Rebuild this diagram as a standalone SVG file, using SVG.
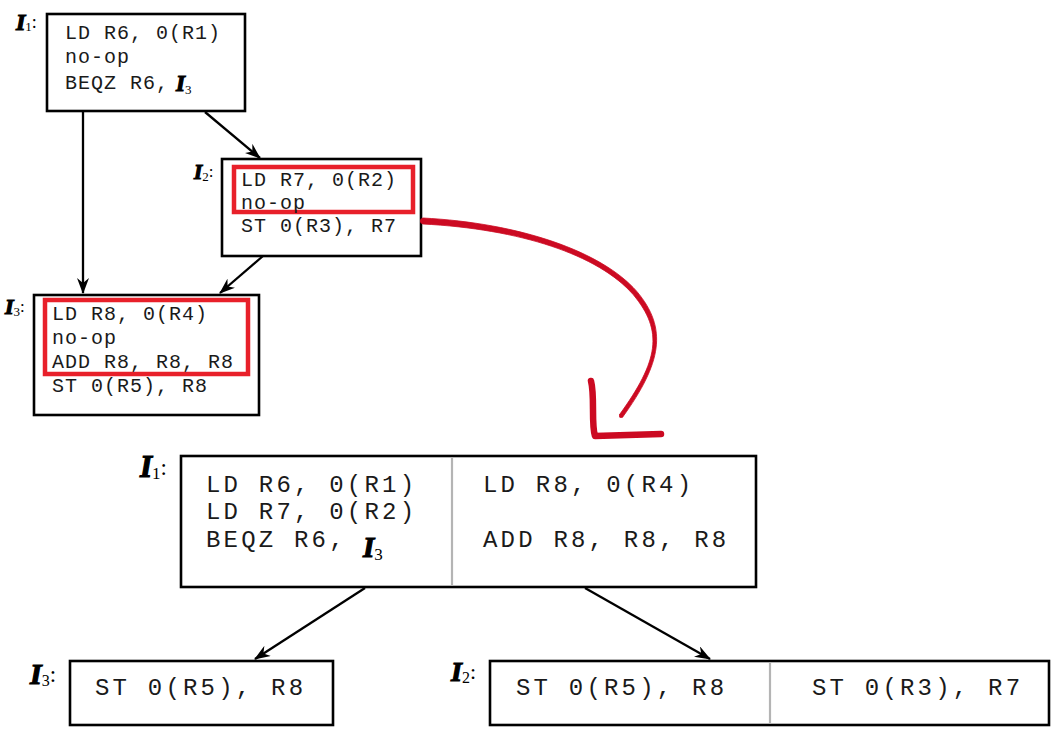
<svg xmlns="http://www.w3.org/2000/svg" width="1063" height="736" viewBox="0 0 1063 736">
<style>
.box{fill:#fff;stroke:#000;stroke-width:2.6}
.hl{fill:none;stroke:#e8202a;stroke-width:4.5}
.div{stroke:#b4b4b4;stroke-width:2.2}
.c{font-family:"Liberation Mono","Courier New",monospace;font-size:20px;letter-spacing:1px;fill:#1a1a1a}
.cb{font-family:"Liberation Mono","Courier New",monospace;font-size:24px;letter-spacing:3.2px;fill:#1a1a1a}
.I{font-family:"Liberation Serif","Times New Roman",serif;font-weight:bold;font-style:italic;fill:#000;stroke:#000;stroke-width:1.2}
.sub{stroke-width:0;font-weight:normal;font-style:normal}
.s{font-family:"Liberation Serif","Times New Roman",serif;font-weight:normal;font-style:normal;stroke-width:0}
.conn{stroke:#000;stroke-width:2.3;fill:none;marker-end:url(#ah)}
</style>
<defs>
<marker id="ah" viewBox="0 0 16 12" refX="15" refY="6" markerWidth="16" markerHeight="12" markerUnits="userSpaceOnUse" orient="auto">
<path d="M0,0 L16,6 L0,12 L5,6 Z" fill="#000"/>
</marker>
</defs>
<rect width="1063" height="736" fill="#fff"/>

<g id="connectors">
<line class="conn" x1="83" y1="112" x2="83" y2="293"/>
<line class="conn" x1="205" y1="112" x2="260" y2="158"/>
<line class="conn" x1="263" y1="256" x2="220" y2="293"/>
<line class="conn" x1="365" y1="588" x2="255" y2="659"/>
<line class="conn" x1="585" y1="588" x2="710" y2="659"/>
</g>

<g id="top-I1">
<rect class="box" x="47" y="14" width="198" height="97"/>
<text class="I" x="16" y="30" font-size="24">I<tspan class="sub" font-size="13" dy="1">1</tspan><tspan class="s" font-size="18" dy="-3">:</tspan></text>
<text class="c" x="65" y="39">LD R6, 0(R1)</text>
<text class="c" x="65" y="63">no-op</text>
<text class="c" x="65" y="89">BEQZ R6,</text>
<text class="I" x="176" y="91" font-size="23">I<tspan class="sub" font-size="13" dy="3">3</tspan></text>
</g>

<g id="top-I2">
<rect class="box" x="222" y="159" width="199" height="97"/>
<rect class="hl" x="234" y="167" width="179" height="45"/>
<text class="I" x="194" y="179" font-size="21">I<tspan class="sub" font-size="13" dy="2">2</tspan><tspan class="s" font-size="17" dy="-4">:</tspan></text>
<text class="c" x="241" y="186">LD R7, 0(R2)</text>
<text class="c" x="241" y="209">no-op</text>
<text class="c" x="241" y="232">ST 0(R3), R7</text>
</g>

<g id="top-I3">
<rect class="box" x="34" y="295" width="225" height="120"/>
<rect class="hl" x="45" y="300" width="203" height="74"/>
<text class="I" x="5" y="314" font-size="22">I<tspan class="sub" font-size="13" dy="2">3</tspan><tspan class="s" font-size="17" dy="-4">:</tspan></text>
<text class="c" x="52" y="320">LD R8, 0(R4)</text>
<text class="c" x="52" y="344">no-op</text>
<text class="c" x="52" y="368">ADD R8, R8, R8</text>
<text class="c" x="52" y="392">ST 0(R5), R8</text>
</g>

<g id="red-arrow" fill="#cc0a22" stroke="#cc0a22" stroke-linecap="round" stroke-linejoin="round">
<path d="M423,218 C520,223 601.8,251.4 636.8,291.4 C668,328.5 661.7,363 622.6,417.2 L619.4,414.8 C658.3,361 664,331.5 633.2,294.6 C598.2,254.6 520,229 423,224 Z" stroke-width="0.8"/>
<circle cx="423" cy="221" r="3" stroke="none"/>
<circle cx="621" cy="416" r="2" stroke="none"/>
<path d="M591,381 C595,396 591,424 595,436 L661,434" fill="none" stroke-width="6.5"/>
</g>

<g id="bottom-I1">
<rect class="box" x="181" y="456" width="575" height="131"/>
<line class="div" x1="452" y1="457" x2="452" y2="586"/>
<text class="I" x="140" y="477" font-size="31" stroke-width="1.5">I<tspan class="sub" font-size="17" dy="2">1</tspan><tspan class="s" font-size="23" dy="-4">:</tspan></text>
<text class="cb" x="206" y="492">LD R6, 0(R1)</text>
<text class="cb" x="206" y="519">LD R7, 0(R2)</text>
<text class="cb" x="206" y="547">BEQZ R6,</text>
<text class="I" x="363" y="557" font-size="29" stroke-width="1.5">I<tspan class="sub" font-size="17" dy="3">3</tspan></text>
<text class="cb" x="483" y="492">LD R8, 0(R4)</text>
<text class="cb" x="483" y="547">ADD R8, R8, R8</text>
</g>

<g id="bottom-I3">
<rect class="box" x="70" y="661" width="263" height="64"/>
<text class="I" x="30" y="684" font-size="30" stroke-width="1.5">I<tspan class="sub" font-size="16" dy="2">3</tspan><tspan class="s" font-size="23" dy="-4">:</tspan></text>
<text class="cb" x="95" y="695">ST 0(R5), R8</text>
</g>

<g id="bottom-I2">
<rect class="box" x="490" y="661" width="559" height="64"/>
<line class="div" x1="770" y1="662" x2="770" y2="724"/>
<text class="I" x="451" y="681" font-size="28" stroke-width="1.5">I<tspan class="sub" font-size="16" dy="2">2</tspan><tspan class="s" font-size="22" dy="-4">:</tspan></text>
<text class="cb" x="516" y="695">ST 0(R5), R8</text>
<text class="cb" x="812" y="695">ST 0(R3), R7</text>
</g>
</svg>
